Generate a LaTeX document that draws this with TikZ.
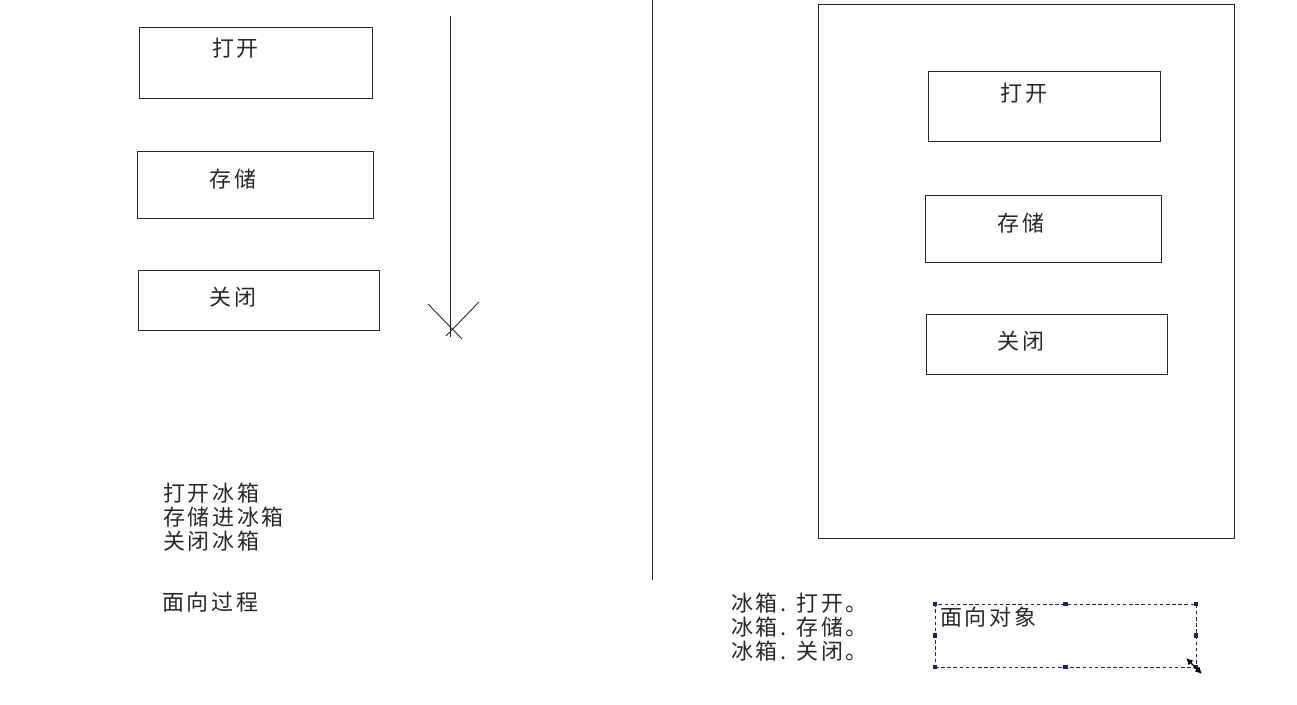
\documentclass[tikz,border=0pt]{standalone}
\usepackage{fontspec}
\setmainfont{Noto Sans CJK SC}[LetterSpace=12]
\usepackage{xcolor}
\usetikzlibrary{arrows.meta, positioning, fit}
\definecolor{mydark}{RGB}{40,40,40}
\definecolor{mynavy}{RGB}{25,35,95}
\tikzset{
  box/.style={rectangle, draw=mydark, line width=0.5pt, inner sep=0pt},
  boxtext/.style={font=\fontsize{12.5}{13.6}\selectfont, text=mydark, inner sep=0pt},
  plaintext/.style={font=\fontsize{12.5}{13.6}\selectfont, text=mydark,
    inner sep=0pt, align=left, anchor=north west},
  line/.style={line width=0.5pt, color=mydark},
  selbox/.style={rectangle, draw=mynavy, dash pattern=on 2pt off 1.5pt,
    line width=0.5pt, inner sep=0pt},
  handle/.style={rectangle, fill=mynavy, inner sep=0pt, minimum size=2.4pt}
}
\begin{document}
\begin{tikzpicture}[x=0.02cm, y=-0.02cm]
  \useasboundingbox (0,0) rectangle (1297,704);

  % Left: steps
  \node[box, fit={(139,27) (372,98)}] (lopen) {};
  \node[boxtext] (lopentxt) at (235.5,48.5) {打开};
  \node[box, fit={(137,151) (373,218)}] (lstore) {};
  \node[boxtext] (lstoretxt) at (233,179) {存储};
  \node[box, fit={(138,270) (379,330)}] (lclose) {};
  \node[boxtext] (lclosetxt) at (233,297) {关闭};

  % Left: flow arrow
  \coordinate (atop) at (450,16);
  \coordinate (abot) at (450,337);
  \draw[line] (atop) -- (abot);
  \draw[line] (428,304) -- (462,339);
  \draw[line] (479,302) -- (446,336);

  % Left: texts
  \node[plaintext] (proclist) at (163,483) {打开冰箱\\存储进冰箱\\关闭冰箱};
  \node[plaintext] (proctitle) at (162,592) {面向过程};

  % Divider
  \draw[line] (652,0) -- (652,580);

  % Right: fridge object
  \node[box, fit={(818,4) (1234,538)}] (fridge) {};
  \node[box, fit={(928,71) (1160,141)}] (ropen) {};
  \node[boxtext] (ropentxt) at (1024,93) {打开};
  \node[box, fit={(925,195) (1161,262)}] (rstore) {};
  \node[boxtext] (rstoretxt) at (1021,223) {存储};
  \node[box, fit={(926,314) (1167,374)}] (rclose) {};
  \node[boxtext] (rclosetxt) at (1021,341) {关闭};

  % Right: texts
  \node[plaintext] (objlist) at (731,593) {冰箱. 打开。\\冰箱. 存储。\\冰箱. 关闭。};

  % Right: selected text box
  \node[selbox, fit={(935,604) (1196,667)}] (selected) {};
  \node[plaintext] (objtitle) at (940,607) {面向对象};
  \foreach \hx/\hy [count=\i] in {935/604, 1065.5/604, 1196/604, 935/635.5,
      1196/635.5, 935/667, 1065.5/667, 1196/667}
    \node[handle] (h\i) at (\hx,\hy) {};
  \coordinate (cura) at (1186,658);
  \coordinate (curb) at (1202,674);
  \draw[{Latex[length=4pt,width=4pt]}-{Latex[length=4pt,width=4pt]},
    line width=0.8pt, black] (cura) -- (curb);
\end{tikzpicture}
\end{document}
